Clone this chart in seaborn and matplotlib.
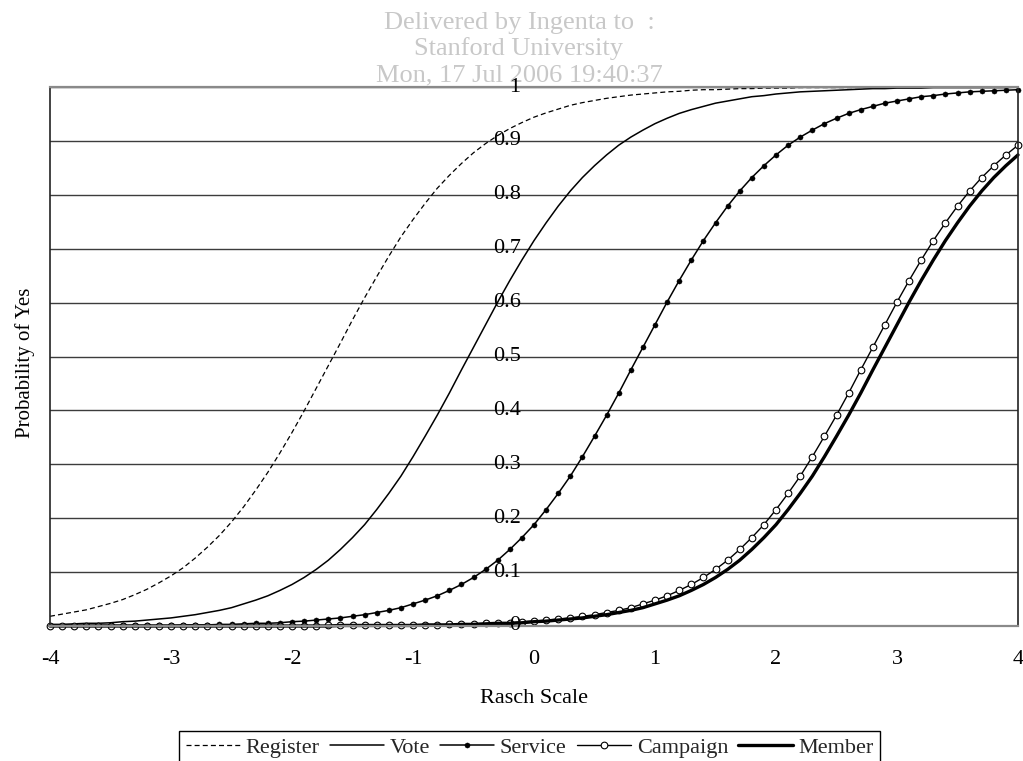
import seaborn as sns
import matplotlib.pyplot as plt
import pandas as pd

# Rasch scale positions (step 0.1)
x_scale = [
    -4.0, -3.9, -3.8, -3.7, -3.6, -3.5, -3.4, -3.3, -3.2, -3.1,
    -3.0, -2.9, -2.8, -2.7, -2.6, -2.5, -2.4, -2.3, -2.2, -2.1,
    -2.0, -1.9, -1.8, -1.7, -1.6, -1.5, -1.4, -1.3, -1.2, -1.1,
    -1.0, -0.9, -0.8, -0.7, -0.6, -0.5, -0.4, -0.3, -0.2, -0.1,
    0.0, 0.1, 0.2, 0.3, 0.4, 0.5, 0.6, 0.7, 0.8, 0.9,
    1.0, 1.1, 1.2, 1.3, 1.4, 1.5, 1.6, 1.7, 1.8, 1.9,
    2.0, 2.1, 2.2, 2.3, 2.4, 2.5, 2.6, 2.7, 2.8, 2.9,
    3.0, 3.1, 3.2, 3.3, 3.4, 3.5, 3.6, 3.7, 3.8, 3.9,
    4.0,
]

register = [
    0.018, 0.022, 0.026, 0.030, 0.036, 0.042, 0.049, 0.058, 0.068, 0.080,
    0.093, 0.108, 0.126, 0.146, 0.168, 0.193, 0.221, 0.252, 0.285, 0.321,
    0.359, 0.399, 0.441, 0.483, 0.525, 0.568, 0.609, 0.648, 0.686, 0.722,
    0.754, 0.784, 0.812, 0.836, 0.858, 0.878, 0.895, 0.910, 0.923, 0.934,
    0.944, 0.952, 0.959, 0.966, 0.971, 0.975, 0.979, 0.982, 0.985, 0.987,
    0.989, 0.991, 0.992, 0.994, 0.995, 0.995, 0.996, 0.997, 0.997, 0.998,
    0.998, 0.998, 0.999, 0.999, 0.999, 0.999, 0.999, 0.999, 0.999, 1.000,
    1.000, 1.000, 1.000, 1.000, 1.000, 1.000, 1.000, 1.000, 1.000, 1.000,
    1.000,
]

vote = [
    0.003, 0.003, 0.004, 0.005, 0.005, 0.006, 0.008, 0.009, 0.011, 0.013,
    0.015, 0.018, 0.021, 0.025, 0.029, 0.034, 0.041, 0.048, 0.056, 0.066,
    0.077, 0.090, 0.105, 0.122, 0.142, 0.164, 0.188, 0.216, 0.246, 0.278,
    0.314, 0.352, 0.391, 0.432, 0.475, 0.517, 0.559, 0.601, 0.641, 0.679,
    0.715, 0.748, 0.779, 0.807, 0.832, 0.854, 0.874, 0.892, 0.907, 0.920,
    0.932, 0.942, 0.951, 0.958, 0.964, 0.970, 0.974, 0.978, 0.982, 0.984,
    0.987, 0.989, 0.991, 0.992, 0.993, 0.994, 0.995, 0.996, 0.997, 0.997,
    0.998, 0.998, 0.998, 0.999, 0.999, 0.999, 0.999, 0.999, 0.999, 0.999,
    1.000,
]

service = [
    0.000, 0.000, 0.000, 0.000, 0.001, 0.001, 0.001, 0.001, 0.001, 0.001,
    0.001, 0.002, 0.002, 0.002, 0.003, 0.003, 0.004, 0.005, 0.005, 0.006,
    0.008, 0.009, 0.011, 0.013, 0.015, 0.018, 0.021, 0.025, 0.029, 0.034,
    0.041, 0.048, 0.056, 0.066, 0.077, 0.090, 0.105, 0.122, 0.142, 0.164,
    0.188, 0.216, 0.246, 0.278, 0.314, 0.352, 0.391, 0.432, 0.475, 0.517,
    0.559, 0.601, 0.641, 0.679, 0.715, 0.748, 0.779, 0.807, 0.832, 0.854,
    0.874, 0.892, 0.907, 0.920, 0.932, 0.942, 0.951, 0.958, 0.964, 0.970,
    0.974, 0.978, 0.982, 0.984, 0.987, 0.989, 0.991, 0.992, 0.993, 0.994,
    0.995,
]

campaign = [
    0.000, 0.000, 0.000, 0.000, 0.000, 0.000, 0.000, 0.000, 0.000, 0.000,
    0.000, 0.000, 0.000, 0.000, 0.000, 0.000, 0.000, 0.000, 0.000, 0.000,
    0.000, 0.000, 0.000, 0.001, 0.001, 0.001, 0.001, 0.001, 0.001, 0.001,
    0.002, 0.002, 0.002, 0.003, 0.003, 0.004, 0.005, 0.005, 0.006, 0.008,
    0.009, 0.011, 0.013, 0.015, 0.018, 0.021, 0.025, 0.029, 0.034, 0.041,
    0.048, 0.056, 0.066, 0.077, 0.090, 0.105, 0.122, 0.142, 0.164, 0.188,
    0.216, 0.246, 0.278, 0.314, 0.352, 0.391, 0.432, 0.475, 0.517, 0.559,
    0.601, 0.641, 0.679, 0.715, 0.748, 0.779, 0.807, 0.832, 0.854, 0.874,
    0.892,
]

member = [
    0.000, 0.000, 0.000, 0.000, 0.000, 0.000, 0.000, 0.000, 0.000, 0.000,
    0.000, 0.000, 0.000, 0.000, 0.000, 0.000, 0.000, 0.000, 0.000, 0.000,
    0.000, 0.000, 0.000, 0.000, 0.001, 0.001, 0.001, 0.001, 0.001, 0.001,
    0.001, 0.002, 0.002, 0.002, 0.003, 0.003, 0.004, 0.005, 0.005, 0.006,
    0.008, 0.009, 0.011, 0.013, 0.015, 0.018, 0.021, 0.025, 0.029, 0.034,
    0.041, 0.048, 0.056, 0.066, 0.077, 0.090, 0.105, 0.122, 0.142, 0.164,
    0.188, 0.216, 0.246, 0.278, 0.314, 0.352, 0.391, 0.432, 0.475, 0.517,
    0.559, 0.601, 0.641, 0.679, 0.715, 0.748, 0.779, 0.807, 0.832, 0.854,
    0.874,
]

x_ticks = [-4, -3, -2, -1, 0, 1, 2, 3, 4]
x_tick_labels = ["-4", "-3", "-2", "-1", "0", "1", "2", "3", "4"]
y_ticks = [0, 0.1, 0.2, 0.3, 0.4, 0.5, 0.6, 0.7, 0.8, 0.9, 1]
y_tick_labels = ["0", "0.1", "0.2", "0.3", "0.4", "0.5", "0.6", "0.7", "0.8", "0.9", "1"]

watermark = ["Delivered by Ingenta to  :", "Stanford University", "Mon, 17 Jul 2006 19:40:37"]

sns.set_theme(style="white")
plt.rcParams["font.family"] = ["Liberation Serif", "DejaVu Serif"]
plt.rcParams["axes.unicode_minus"] = False

df = pd.DataFrame({"Rasch": x_scale, "Register": register, "Vote": vote,
                   "Service": service, "Campaign": campaign, "Member": member})

styles = {
    "Register": dict(linestyle=(0, (4, 2.5)), linewidth=0.9),
    "Vote": dict(linewidth=1.1),
    "Service": dict(linewidth=1.1, marker="o", markersize=3.7,
                    markerfacecolor="black", markeredgecolor="black", markeredgewidth=0.3),
    "Campaign": dict(linewidth=1.0, marker="o", markersize=4.8,
                     markerfacecolor="white", markeredgecolor="black", markeredgewidth=0.8),
    "Member": dict(linewidth=2.4),
}

fig = plt.figure(figsize=(10.23, 7.61), dpi=100)
ax = fig.add_axes([50 / 1023, 1 - 626 / 761, 968 / 1023, 539 / 761])

for name in ["Register", "Vote", "Service", "Campaign", "Member"]:
    sns.lineplot(data=df, x="Rasch", y=name, ax=ax, color="black", label=name,
                 clip_on=False, **styles[name])

ax.set_xlim(-4, 4)
ax.set_ylim(0, 1)
ax.set_xticks(x_ticks)
ax.set_xticklabels(x_tick_labels)
ax.set_yticks(y_ticks)
ax.tick_params(axis="x", length=0, pad=17, labelsize=16, colors="black")
ax.tick_params(axis="y", left=False, labelleft=False)
ax.yaxis.grid(True, color="#3c3c3c", linewidth=1.0)
ax.set_axisbelow(True)

# y labels sit next to the zero of the Rasch scale
for v, lab in zip(y_ticks, y_tick_labels):
    ax.text(-0.11, v, lab, ha="right", va="center", fontsize=16, color="black")

for side in ["top", "bottom"]:
    ax.spines[side].set_color("#8a8a8a")
    ax.spines[side].set_linewidth(1.6)
for side in ["left", "right"]:
    ax.spines[side].set_color("#222222")
    ax.spines[side].set_linewidth(1.2)

ax.set_xlabel("Rasch Scale", fontsize=16, labelpad=15, color="black")
ax.set_ylabel("Probability of Yes", fontsize=15, color="black")
ax.yaxis.set_label_coords(-0.0155, 0.488)

leg = ax.legend(loc="upper center", bbox_to_anchor=(529.5 / 1023, 1 - 731 / 761),
                bbox_transform=fig.transFigure, ncol=5, fontsize=16, frameon=True,
                fancybox=False, edgecolor="black", framealpha=1, handlelength=2.45,
                handletextpad=0.25, columnspacing=0.45, borderpad=0.3, borderaxespad=0)
leg.get_frame().set_linewidth(1.0)

for i, line in enumerate(watermark):
    fig.text(519 / 1023, 1 - (29 + 26 * i) / 761, line, ha="center", va="baseline",
             fontsize=19, color="#c8c8c8", zorder=-1)

fig.savefig("out.png", dpi=100)
